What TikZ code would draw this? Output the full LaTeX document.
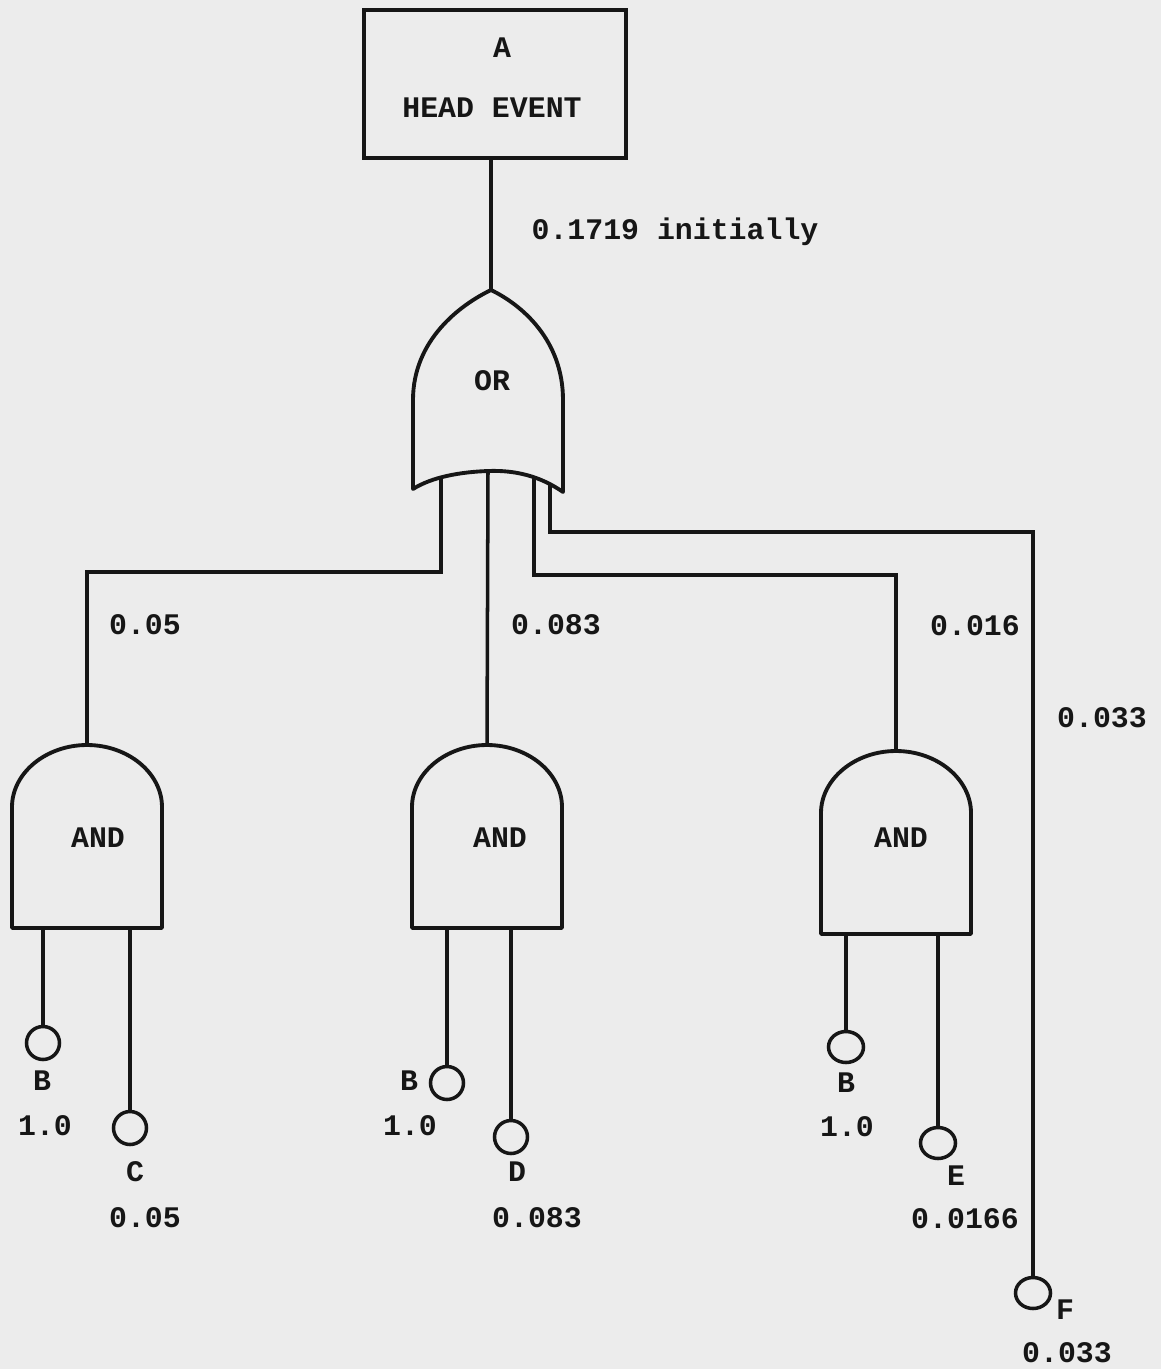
\documentclass[tikz,border=0pt]{standalone}
\usepackage{fontspec}
\setmonofont{Liberation Mono}
\usetikzlibrary{shapes.geometric,positioning,calc}
\definecolor{paper}{RGB}{236,236,236}
\definecolor{ink}{RGB}{22,22,22}

\begin{document}
\begin{tikzpicture}[
    x=0.02cm, y=-0.02cm,
    txt/.style={font=\fontsize{17}{20}\selectfont\ttfamily\bfseries, text=ink, inner sep=0pt, anchor=mid, yshift=-0.12cm},
    eventbox/.style={rectangle, draw=ink, line width=2.2pt, minimum width=5.24cm, minimum height=2.96cm},
    basic/.style={circle, draw=ink, line width=2pt, minimum size=0.66cm, inner sep=0pt},
    basicflat/.style={ellipse, draw=ink, line width=2pt, minimum width=0.7cm, minimum height=0.62cm, inner sep=0pt},
    gate/.style={draw=ink, line width=2.2pt, line join=round},
    wire/.style={draw=ink, line width=2pt},
    andgate/.pic={
      \draw[gate] (-75,183) -- (-75,62) .. controls (-75,28) and (-41,0) .. (0,0)
        .. controls (41,0) and (75,28) .. (75,62) -- (75,183) -- cycle;
      \coordinate (-top) at (0,0);
      \coordinate (-base) at (0,183);
    }
]

% paper
\fill[paper] (0,0) rectangle (1161,1369);
\useasboundingbox (0,0) rectangle (1161,1369);

% Head event
\node[eventbox] (A) at (495,84) {};
\node[txt] (t-a) at (502,48) {A};
\node[txt] (t-head) at (492,108) {HEAD EVENT};

% OR gate
\draw[gate] (413,489) -- (413,400) .. controls (413,340) and (460,305) .. (491,290)
  .. controls (522,305) and (563,340) .. (563,400) -- (563,492)
  .. controls (540,476) and (515,470) .. (488,471)
  .. controls (460,472) and (432,477) .. (413,489) -- cycle;
\node[txt] (or) at (492,381) {OR};
\coordinate (or-top) at (491,290);
\coordinate (or-l) at (441,478);
\coordinate (or-m) at (488,471);
\coordinate (or-r) at (534,477);
\coordinate (or-f) at (550,484);

\draw[wire] (or-top) -- (or-top |- A.south);
\node[txt] (p-top) at (675,230) {0.1719 initially};

% AND gates
\pic (g1) at (87,745) {andgate};
\pic (g2) at (487,745) {andgate};
\pic (g3) at (896,751) {andgate};
\node[txt] (t-g1) at (98,838) {AND};
\node[txt] (t-g2) at (500,838) {AND};
\node[txt] (t-g3) at (901,838) {AND};

% bus levels
\coordinate (busL) at (0,572);
\coordinate (busR) at (0,575);
\coordinate (busF) at (0,532);

% Basic events
\node[basic] (B1) at (43,1043) {};
\node[basic] (C) at (130,1128) {};
\node[basic] (B2) at (447,1083) {};
\node[basic] (D) at (511,1137) {};
\node[basicflat] (B3) at (846,1047) {};
\node[basicflat] (E) at (938,1143) {};
\node[basicflat] (F) at (1033,1293) {};

% OR inputs
\draw[wire] (or-l) -- (or-l |- busL) -| (g1-top);
\draw[wire] (or-m) -- (g2-top);
\draw[wire] (or-r) -- (or-r |- busR) -| (g3-top);
\draw[wire] (or-f) -- (or-f |- busF) -| (F);

% AND inputs
\draw[wire] (B1) -- (B1 |- g1-base);
\draw[wire] (C) -- (C |- g1-base);
\draw[wire] (B2) -- (B2 |- g2-base);
\draw[wire] (D) -- (D |- g2-base);
\draw[wire] (B3) -- (B3 |- g3-base);
\draw[wire] (E) -- (E |- g3-base);

% probabilities
\node[txt] (p-g1) at (145,625) {0.05};
\node[txt] (p-g2) at (556,625) {0.083};
\node[txt] (p-g3) at (975,626) {0.016};
\node[txt] (p-f) at (1102,718) {0.033};

% event labels
\node[txt] (t-b1) at (42,1081) {B};
\node[txt] (p-b1) at (45,1126) {1.0};
\node[txt] (t-c) at (135,1172) {C};
\node[txt] (p-c) at (145,1218) {0.05};
\node[txt] (t-b2) at (409,1081) {B};
\node[txt] (p-b2) at (410,1126) {1.0};
\node[txt] (t-d) at (517,1172) {D};
\node[txt] (p-d) at (537,1218) {0.083};
\node[txt] (t-b3) at (846,1083) {B};
\node[txt] (p-b3) at (847,1127) {1.0};
\node[txt] (t-e) at (956,1176) {E};
\node[txt] (p-e) at (965,1219) {0.0166};
\node[txt] (t-f) at (1065,1310) {F};
\node[txt] (p-ff) at (1067,1353) {0.033};

\end{tikzpicture}
\end{document}
